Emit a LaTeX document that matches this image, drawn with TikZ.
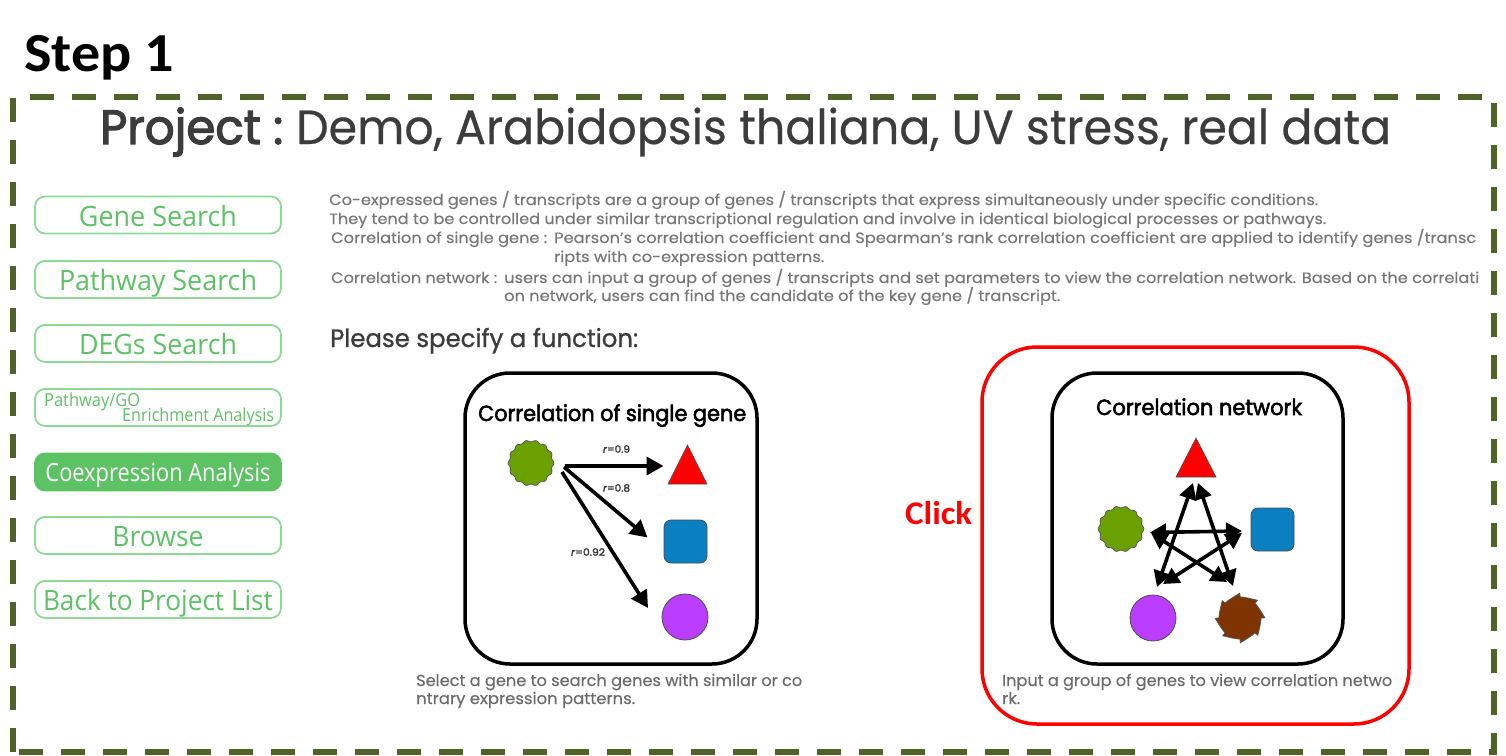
\documentclass[tikz,border=0pt]{standalone}
\usepackage{fontspec}
\usepackage{graphicx}
\usetikzlibrary{arrows.meta,calc}
\setmainfont[FakeBold=0.4]{Poppins}
\newfontfamily\stepfont{Carlito}
\newfontfamily\menufont{Open Sans}
\newfontfamily\boldpop[FakeBold=2.5]{Poppins}
\newfontfamily\midpop[FakeBold=1]{Poppins}
\definecolor{olive}{HTML}{4F6228}
\definecolor{mgreen}{HTML}{5CC264}
\definecolor{mline}{HTML}{8FD896}
\definecolor{bodygrey}{HTML}{777777}
\definecolor{darkt}{HTML}{3C3C3C}
\definecolor{geargreen}{HTML}{6AA100}
\definecolor{sqblue}{HTML}{0A80C0}
\definecolor{cpurple}{HTML}{BB3DFF}
\definecolor{brownb}{HTML}{7F3300}
\newcommand\fitw[2]{\resizebox{#1pt}{\height}{#2}}
\tikzset{
  frameline/.style={olive,line width=6pt,dash pattern=on 24pt off 18pt},
  btn/.style={draw=mline,line width=1.8pt,rounded corners=10pt,minimum width=246pt,minimum height=37pt,inner sep=0pt,
    text=mgreen,font=\menufont\fontsize{28}{28}\selectfont,text height=26pt,text depth=4pt},
  btnon/.style={btn,fill=mgreen,draw=mgreen,text=white,font=\menufont\fontsize{25}{25}\selectfont,text height=22pt},
  small/.style={anchor=base west,inner sep=0pt,text=mgreen,font=\menufont\fontsize{18}{18}\selectfont},
  bodyt/.style={anchor=base west,inner sep=0pt,text=bodygrey,font=\fontsize{15}{15}\selectfont},
  capt/.style={anchor=base west,inner sep=0pt,text=bodygrey!90!black,font=\fontsize{16}{16}\selectfont},
  card/.style={draw=black,line width=3.5pt,rounded corners=45pt},
  cardt/.style={anchor=base west,inner sep=0pt,text=black,font=\boldpop\fontsize{22}{22}\selectfont},
  rlab/.style={inner sep=0pt,text=darkt,font=\boldpop\fontsize{10}{10}\selectfont},
  tri/.style={fill=red,draw=black!70,line width=.6pt},
  sq/.style={fill=sqblue,draw=black!70,line width=.8pt,rounded corners=7pt},
  circ/.style={circle,fill=cpurple,draw=black!70,line width=.8pt,minimum size=46pt,inner sep=0pt},
  gearst/.style={fill=geargreen,draw=black!65,line width=.8pt},
  sawst/.style={fill=brownb,draw=black!65,line width=.8pt},
  arrL/.style={draw=black,line width=3.6pt,-{Triangle[length=17pt,width=18pt]}},
  arrN/.style={draw=black,line width=3.6pt,{Triangle[length=16pt,width=17pt]}-{Triangle[length=16pt,width=17pt]}},
}
\begin{document}
\begin{tikzpicture}[x=1pt,y=-1pt]
\useasboundingbox (0,0) rectangle (1506,755);
% frame
\draw[frameline] (30,97) -- (1482,97);
\draw[frameline] (13,98) -- (13,752);
\draw[frameline] (1494,103) -- (1494,755);
\draw[frameline] (19,752) -- (1497,752);
% heading
\node[anchor=base west,inner sep=0pt,font=\stepfont\bfseries\fontsize{55}{55}\selectfont] (step) at (24,71) {\fitw{150}{Step 1}};
\node[anchor=base west,inner sep=0pt,text=darkt,font=\boldpop\fontsize{48}{48}\selectfont] (pj) at (100,144) {\fitw{183}{Project :}};
\node[anchor=base west,inner sep=0pt,text=darkt,font=\fontsize{48}{48}\selectfont] (pn) at (296,144) {\fitw{1095}{Demo, Arabidopsis thaliana, UV stress, real data}};
% menu
\node[btn] (b1) at (158,215) {\fitw{158}{Gene Search}};
\node[btn] (b2) at (158,279.5) {\fitw{198}{Pathway Search}};
\node[btn] (b3) at (158,343.5) {\fitw{158}{DEGs Search}};
\node[btn] (b4) at (158,407.5) {};
\node[small] (b4a) at (44,406) {\fitw{96}{Pathway/GO}};
\node[small] (b4b) at (122,421) {\fitw{152}{Enrichment Analysis}};
\node[btnon] (b5) at (158,472) {\fitw{225}{Coexpression Analysis}};
\node[btn] (b6) at (158,535.5) {\fitw{91}{Browse}};
\node[btn] (b7) at (158,599.5) {\fitw{230}{Back to Project List}};
% body
\node[bodyt] (l1) at (329,205) {\fitw{989}{Co-expressed genes / transcripts are a group of genes / transcripts that express simultaneously under specific conditions.}};
\node[bodyt] (l2) at (329,224) {\fitw{997}{They tend to be controlled under similar transcriptional regulation and involve in identical biological processes or pathways.}};
\node[bodyt] (l3a) at (331,243) {\fitw{216}{Correlation of single gene :}};
\node[bodyt] (l3b) at (554,243) {\fitw{922}{Pearson’s correlation coefficient and Spearman’s rank correlation coefficient are applied to identify genes /transc}};
\node[bodyt] (l4) at (554,262) {\fitw{270}{ripts with co-expression patterns.}};
\node[bodyt] (l5a) at (331,283) {\fitw{166}{Correlation network :}};
\node[bodyt] (l5b) at (504,283) {\fitw{975}{users can input a group of genes / transcripts and set parameters to view the correlation network. Based on the correlati}};
\node[bodyt] (l6) at (504,301) {\fitw{556}{on network, users can find the candidate of the key gene / transcript.}};
\node[anchor=base west,inner sep=0pt,text=darkt,font=\midpop\fontsize{25}{25}\selectfont] (pl) at (330,347) {\fitw{308}{Please specify a function:}};
% left card
\draw[card] (465,373) rectangle (757,664);
\node[cardt] (t1) at (478,421) {\fitw{268}{Correlation of single gene}};
\coordinate (g1) at (531,463);
\draw[gearst] plot[smooth cycle,domain=0:358,samples=113] ({531+(22+0.9*cos(14*\x))*cos(\x)},{463+(22+0.9*cos(14*\x))*sin(\x)});
\coordinate (tr1) at (687.5,470);
\draw[tri] (687.5,445) -- (707,484) -- (668,484) -- cycle;
\node[sq,minimum size=43pt,inner sep=0pt] (s1) at (685.5,541.5) {};
\node[circ] (c1) at (685,617) {};
\coordinate (fa) at ($(g1)+(34,3)$);
\coordinate (fb) at ($(g1)+(33,4)$);
\coordinate (fc) at ($(g1)+(31,9)$);
\coordinate (ta) at ($(tr1)+(-24,-4)$);
\coordinate (tb) at ($(s1)+(-38,-4)$);
\coordinate (tc) at ($(c1)+(-37,-9)$);
\draw[arrL] (fa) -- (ta);
\draw[arrL] (fb) -- (tb);
\draw[arrL] (fc) -- (tc);
\node[rlab] (r1) at (616.5,449) {\fitw{27}{\textit{r}=0.9}};
\node[rlab] (r2) at (616.5,488) {\fitw{27}{\textit{r}=0.8}};
\node[rlab] (r3) at (588,552) {\fitw{34}{\textit{r}=0.92}};
\node[capt] (c1a) at (416,686) {\fitw{386}{Select a gene to search genes with similar or co}};
\node[capt] (c1b) at (416,704) {\fitw{219}{ntrary expression patterns.}};
% right card
\draw[card] (1052,373) rectangle (1343,664);
\node[cardt] (t2) at (1096,415) {\fitw{206}{Correlation network}};
\coordinate (g2) at (1121,529);
\draw[gearst] plot[smooth cycle,domain=0:358,samples=113] ({1121+(22+0.9*cos(14*\x))*cos(\x)},{529+(22+0.9*cos(14*\x))*sin(\x)});
\coordinate (tr2) at (1196,463);
\draw[tri] (1196,438) -- (1216,477) -- (1176,477) -- cycle;
\node[sq,minimum size=43pt,inner sep=0pt] (s2) at (1272.5,529.5) {};
\node[circ] (c2) at (1153,618) {};
\coordinate (w2) at (1240,618);
\draw[sawst] plot[domain=0:359.5,samples=360] ({1240+(21+4*(mod(8*\x,360)/360)^3)*cos(\x)},{618+(21+4*(mod(8*\x,360)/360)^3)*sin(\x)}) -- cycle;
\coordinate (pg) at ($(g2)+(29,3.5)$);
\coordinate (ps) at ($(s2)+(-30.5,1.5)$);
\coordinate (pg2) at ($(g2)+(30,4)$);
\coordinate (ps2) at ($(s2)+(-30.5,3.5)$);
\coordinate (pta) at ($(tr2)+(-3,20)$);
\coordinate (ptb) at ($(tr2)+(2,20)$);
\coordinate (pc) at ($(c2)+(4,-31)$);
\coordinate (pc2) at ($(c2)+(10,-34)$);
\coordinate (pw) at ($(w2)+(-7,-32)$);
\coordinate (pw2) at ($(w2)+(-13,-36)$);
\draw[arrN] (pg) -- (ps);
\draw[arrN] (pta) -- (pc);
\draw[arrN] (ptb) -- (pw);
\draw[arrN] (pg2) -- (pw2);
\draw[arrN] (ps2) -- (pc2);
\node[capt] (c2a) at (1002,686) {\fitw{390}{Input a group of genes to view correlation netwo}};
\node[capt] (c2b) at (1002,704) {\fitw{18}{rk.}};
% highlight
\draw[draw=red,line width=3.5pt,rounded corners=55pt] (982,347) rectangle (1409,724);
\node[anchor=base west,inner sep=0pt,text=red,font=\stepfont\bfseries\fontsize{33}{33}\selectfont] (click) at (905,524) {\fitw{67}{Click}};
\end{tikzpicture}
\end{document}
